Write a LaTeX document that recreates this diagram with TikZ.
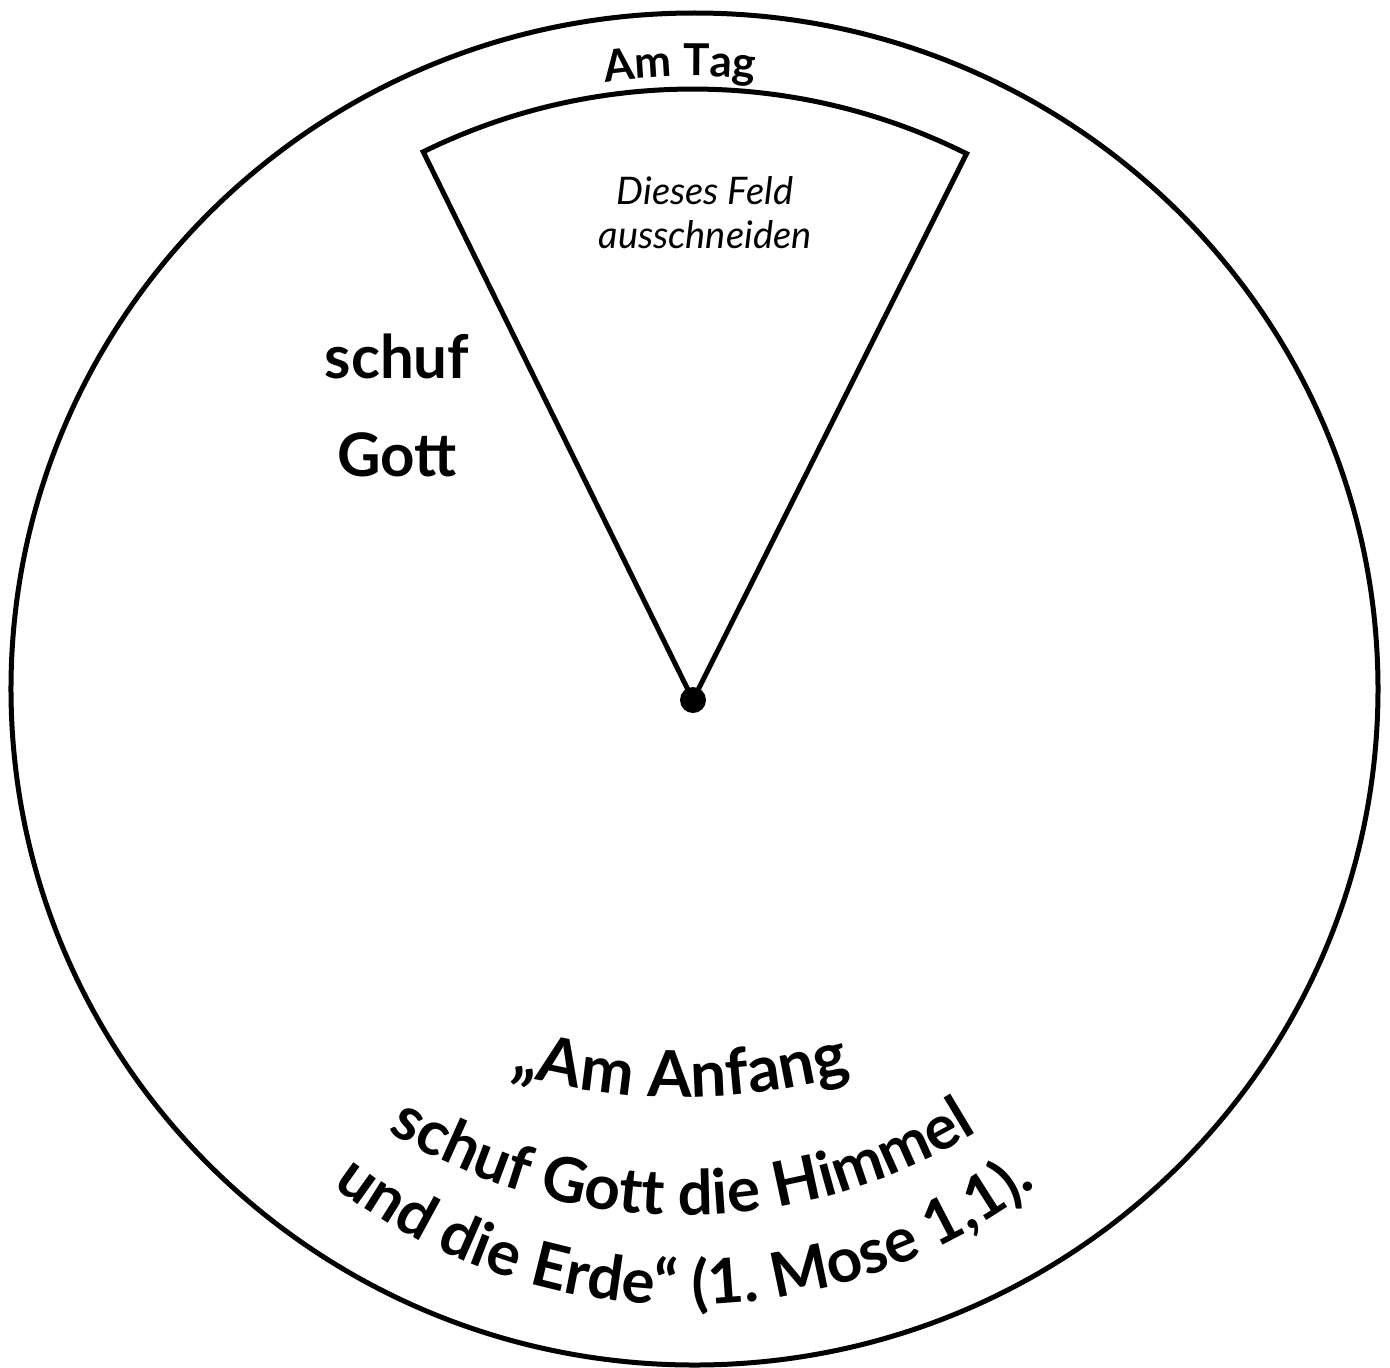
\documentclass[tikz,border=0pt]{standalone}
\usepackage{fontspec}
\setmainfont{Lato}
\usetikzlibrary{decorations.text}

\tikzset{
  big word/.style = {font=\bfseries\fontsize{30pt}{30pt}\selectfont, anchor=base, inner sep=0pt},
  bent line/.style = {decorate, decoration={text along path, text align=center, text={#1}}}
}

\begin{document}
\begin{tikzpicture}[x = 0.5pt, y = 0.5pt, line width = 2.5pt]
  \useasboundingbox (-693,-667) rectangle (697,700);
  % disc and window
  \draw (1.5,11) ellipse [x radius = 683.5, y radius = 676];
  \draw [line join = miter] (0,0) -- (116.2:611)
    arc [start angle = 116.2, end angle = 63.4, radius = 611] -- cycle;
  \fill (0,0) circle [radius = 13];
  % top label
  \path [bent line = {|\bfseries\fontsize{22pt}{22pt}\selectfont|Am Tag}]
    (121.2:624) arc [start angle = 121.2, end angle = 61.2, radius = 624];
  \node [font = \itshape\fontsize{19pt}{22pt}\selectfont, align = center, inner sep = 0pt]
    (feld) at (12,487) {Dieses Feld\\ausschneiden};
  \node [big word] (schuf) at (-296,322) {schuf};
  \node [big word] (gott) at (-296,224) {Gott};
  % verse
  \path [bent line = {|\bfseries\fontsize{32pt}{32pt}\selectfont|„Am Anfang}]
    (-12,223) ++(210:620) arc [start angle = 210, end angle = 330, radius = 620];
  \path [bent line = {|\bfseries\fontsize{31pt}{31pt}\selectfont|schuf Gott die Himmel}]
    (-10,45) ++(200:560) arc [start angle = 200, end angle = 340, radius = 560];
  \path [bent line = {|\bfseries\fontsize{31pt}{31pt}\selectfont|und die Erde“ (1. Mose 1,1).}]
    (-8,-25) ++(200:580) arc [start angle = 200, end angle = 340, radius = 580];
\end{tikzpicture}
\end{document}
